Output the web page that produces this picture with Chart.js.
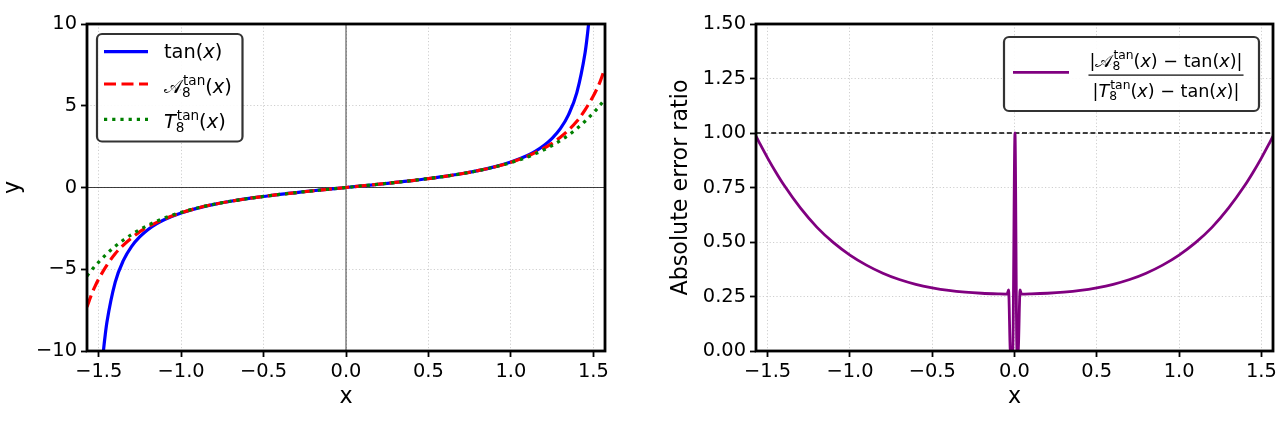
<!DOCTYPE html>
<html><head><meta charset="utf-8">
<script src="https://cdn.jsdelivr.net/npm/chart.js@4.4.1/dist/chart.umd.min.js"></script>
<style>
html,body{margin:0;padding:0;background:#fff;}
#wrap{position:relative;width:1284px;height:421px;overflow:hidden;background:#fff;}
canvas{position:absolute;top:0;}
</style></head><body>
<div id="wrap">
<canvas id="left" width="642" height="421" style="left:0px"></canvas>
<canvas id="right" width="642" height="421" style="left:642px"></canvas>
</div>
<script>
// ---------- data ----------
const tanX = [-1.48,-1.47,-1.46,-1.45,-1.4,-1.35,-1.3,-1.25,-1.2,-1.15,-1.1,-1.0,-0.9,-0.8,-0.7,-0.6,-0.5,-0.4,-0.3,-0.2,-0.1,0,
              0.1,0.2,0.3,0.4,0.5,0.6,0.7,0.8,0.9,1.0,1.1,1.15,1.2,1.25,1.3,1.35,1.4,1.45,1.46,1.47,1.48];
const tanY = [-10.98,-9.89,-8.99,-8.24,-5.80,-4.46,-3.60,-3.01,-2.57,-2.23,-1.96,-1.56,-1.26,-1.03,-0.84,-0.68,-0.55,-0.42,-0.31,-0.20,-0.10,0,
              0.10,0.20,0.31,0.42,0.55,0.68,0.84,1.03,1.26,1.56,1.96,2.23,2.57,3.01,3.60,4.46,5.80,8.24,8.99,9.89,10.98];

const approxX = [-1.5708,-1.56,-1.54,-1.52,-1.5,-1.45,-1.4,-1.35,-1.3,-1.25,-1.2,-1.15,-1.1,-1.0,-0.9,-0.8,-0.7,-0.6,-0.5,-0.4,-0.3,-0.2,-0.1,0,
                 0.1,0.2,0.3,0.4,0.5,0.6,0.7,0.8,0.9,1.0,1.1,1.15,1.2,1.25,1.3,1.35,1.4,1.45,1.5,1.52,1.54,1.56,1.5708];
const padeY = [-7.3,-7.0,-6.45,-6.0,-5.6,-4.75,-4.05,-3.52,-3.08,-2.7,-2.4,-2.15,-1.915,-1.541,-1.255,-1.028,-0.842,-0.684,-0.546,-0.423,-0.309,-0.203,-0.100,0,
               0.100,0.203,0.309,0.423,0.546,0.684,0.842,1.028,1.255,1.541,1.915,2.15,2.4,2.7,3.08,3.52,4.05,4.75,5.6,6.0,6.45,7.0,7.3];
const taylorY = [-5.41,-5.27,-5.02,-4.78,-4.56,-4.05,-3.60,-3.21,-2.87,-2.57,-2.30,-2.07,-1.86,-1.52,-1.25,-1.026,-0.841,-0.684,-0.546,-0.423,-0.309,-0.203,-0.100,0,
                 0.100,0.203,0.309,0.423,0.546,0.684,0.841,1.026,1.25,1.52,1.86,2.07,2.30,2.57,2.87,3.21,3.60,4.05,4.56,4.78,5.02,5.27,5.41];

const ratioX = [-1.5708,-1.55,-1.5,-1.45,-1.4,-1.3,-1.2,-1.1,-1.0,-0.9,-0.8,-0.7,-0.6,-0.5,-0.4,-0.3,-0.2,-0.1,-0.045,-0.036,-0.025,-0.011,0.003,0.015,0.022,0.034,0.042,
                0.1,0.2,0.3,0.4,0.5,0.6,0.7,0.8,0.9,1.0,1.1,1.2,1.3,1.4,1.45,1.5,1.55,1.5708];
const ratioY = [0.985,0.955,0.885,0.82,0.76,0.655,0.567,0.497,0.44,0.394,0.357,0.328,0.306,0.29,0.278,0.27,0.265,0.262,0.261,0.28,0.0,0.0,1.0,0.0,0.0,0.28,0.261,
                0.262,0.265,0.27,0.278,0.29,0.306,0.328,0.357,0.394,0.44,0.497,0.567,0.655,0.76,0.82,0.885,0.955,0.985];

const xTicks = [-1.5,-1,-0.5,0,0.5,1,1.5];
const xTickLabels = ['\u22121.5','\u22121.0','\u22120.5','0.0','0.5','1.0','1.5'];
const leftYTicks = [-10,-5,0,5,10];
const leftYTickLabels = ['\u221210','\u22125','0','5','10'];
const rightYTicks = [0,0.25,0.5,0.75,1,1.25,1.5];
const rightYTickLabels = ['0.00','0.25','0.50','0.75','1.00','1.25','1.50'];
const xRange = [-1.5708, 1.5708];
const leftYRange = [-10, 10];
const rightYRange = [0, 1.5];
const refLineY = 1.0;
const seriesNames = ['tan(x)', 'A8tan(x)', 'T8tan(x)'];
const ratioName = '|A8tan(x) \u2212 tan(x)| / |T8tan(x) \u2212 tan(x)|';
const xTitle = 'x', leftYTitle = 'y', rightYTitle = 'Absolute error ratio';

// ---------- helpers ----------
const FF = "'DejaVu Sans', 'DejaVu Serif', 'Noto Sans', sans-serif";
const TICK_FONT = {family: "'DejaVu Sans'", size: 19.4};
const TITLE_FONT = {family: "'DejaVu Sans'", size: 22.2};
const pts = (xs, ys) => xs.map((x, i) => ({x, y: ys[i]}));

function mathRun(ctx, segs, x, y, size, draw) {
  let cx = x;
  const small = size * 0.7;
  ctx.textAlign = 'left'; ctx.textBaseline = 'alphabetic'; ctx.fillStyle = '#000';
  for (const s of segs) {
    if (s.sup !== undefined) {
      ctx.font = `${small}px ${FF}`;
      const w1 = ctx.measureText(s.sup).width, w2 = ctx.measureText(s.sub).width;
      if (draw) { ctx.fillText(s.sup, cx + 1, y - size * 0.42); ctx.fillText(s.sub, cx, y + size * 0.2); }
      cx += Math.max(w1 + 1, w2);
    } else {
      ctx.font = `${s.it ? 'italic ' : ''}${size}px ${FF}`;
      if (draw) ctx.fillText(s.t, cx, y);
      cx += ctx.measureText(s.t).width;
    }
  }
  return cx - x;
}
function roundRect(ctx, x, y, w, h, r) {
  ctx.beginPath();
  ctx.moveTo(x + r, y);
  ctx.arcTo(x + w, y, x + w, y + h, r);
  ctx.arcTo(x + w, y + h, x, y + h, r);
  ctx.arcTo(x, y + h, x, y, r);
  ctx.arcTo(x, y, x + w, y, r);
  ctx.closePath();
}
function frame(chart) {
  const {ctx, chartArea: a} = chart;
  ctx.save();
  ctx.strokeStyle = '#000'; ctx.lineWidth = 2.8;
  ctx.strokeRect(a.left, a.top, a.right - a.left, a.bottom - a.top);
  ctx.restore();
}
function fixedTicks(vals) { return (scale) => { scale.ticks = vals.map(v => ({value: v})); }; }

function makeScales(yRange, yTicks, yLabels, yW, yTitle, yTitlePad) {
  const grid = {color: '#cfcfcf', lineWidth: 1, borderDash: [1.2, 2.2], drawTicks: true,
                tickLength: 6, tickColor: '#000', tickWidth: 1.8, tickBorderDash: []};
  const border = {display: false, dash: [1.2, 2.2]};
  return {
    x: {type: 'linear', min: xRange[0], max: xRange[1],
        afterBuildTicks: fixedTicks(xTicks),
        afterFit: (s) => { s.height = 70; },
        ticks: {font: TICK_FONT, color: '#000', padding: 3, maxRotation: 0, autoSkip: false,
                callback: (v, i) => xTickLabels[i]},
        grid: Object.assign({}, grid), border: Object.assign({}, border),
        title: {display: true, text: xTitle, font: TITLE_FONT, color: '#000', padding: {top: 0, bottom: 10}}},
    y: {type: 'linear', min: yRange[0], max: yRange[1],
        afterBuildTicks: fixedTicks(yTicks),
        afterFit: (s) => { s.width = yW; },
        ticks: {font: TICK_FONT, color: '#000', padding: 4, autoSkip: false,
                callback: (v, i) => yLabels[i]},
        grid: Object.assign({}, grid), border: Object.assign({}, border),
        title: {display: true, text: yTitle, font: TITLE_FONT, color: '#000', padding: {top: yTitlePad, bottom: 0}}}
  };
}
const common = {responsive: false, animation: false, events: [],
  plugins: {legend: {display: false}, tooltip: {enabled: false}},
  elements: {point: {radius: 0, hoverRadius: 0}}};

// ---------- left chart ----------
const leftPlugin = {
  id: 'leftDeco',
  beforeDatasetsDraw(chart) {
    const {ctx, chartArea: a, scales: {x, y}} = chart;
    ctx.save();
    ctx.strokeStyle = 'rgba(0,0,0,0.75)'; ctx.lineWidth = 1;
    const y0 = y.getPixelForValue(0), x0 = x.getPixelForValue(0);
    ctx.beginPath(); ctx.moveTo(a.left, y0); ctx.lineTo(a.right, y0);
    ctx.moveTo(x0, a.top); ctx.lineTo(x0, a.bottom); ctx.stroke();
    ctx.restore();
  },
  afterDatasetsDraw(chart) {
    frame(chart);
    const {ctx, chartArea: a} = chart;
    const L = a.left, T = a.top;
    ctx.save();
    roundRect(ctx, L + 10, T + 10, 145.5, 107.5, 5);
    ctx.fillStyle = 'rgba(255,255,255,0.92)'; ctx.fill();
    ctx.strokeStyle = '#333'; ctx.lineWidth = 2.2; ctx.stroke();
    const ds = chart.data.datasets;
    const sy = [27.7, 60, 95.3];
    ds.forEach((d, i) => {
      ctx.beginPath();
      ctx.strokeStyle = d.borderColor; ctx.lineWidth = d.borderWidth; ctx.lineCap = 'butt';
      ctx.setLineDash(d.borderDash || []);
      ctx.moveTo(L + 17, T + sy[i]); ctx.lineTo(L + 61, T + sy[i]); ctx.stroke();
    });
    ctx.setLineDash([]);
    const sz = 19.4, tx = L + 77;
    mathRun(ctx, [{t: 'tan('}, {t: 'x', it: true}, {t: ')'}], tx, T + 33.5, sz, true);
    mathRun(ctx, [{t: '\uD835\uDC9C'}, {sup: 'tan', sub: '8'}, {t: '('}, {t: 'x', it: true}, {t: ')'}], tx, T + 69, sz, true);
    mathRun(ctx, [{t: 'T', it: true}, {sup: 'tan', sub: '8'}, {t: '('}, {t: 'x', it: true}, {t: ')'}], tx, T + 104, sz, true);
    ctx.restore();
  }
};
new Chart(document.getElementById('left'), {
  type: 'line',
  data: {datasets: [
    {label: seriesNames[0], data: pts(tanX, tanY), borderColor: '#0000ff', borderWidth: 3.2,
     cubicInterpolationMode: 'monotone', fill: false, order: 3},
    {label: seriesNames[1], data: pts(approxX, padeY), borderColor: '#ff0000', borderWidth: 3.2,
     borderDash: [12, 5.5], cubicInterpolationMode: 'monotone', fill: false, order: 2},
    {label: seriesNames[2], data: pts(approxX, taylorY), borderColor: '#008000', borderWidth: 3.2,
     borderDash: [3.2, 5], cubicInterpolationMode: 'monotone', fill: false, order: 1}
  ]},
  options: Object.assign({}, common, {
    layout: {padding: {top: 24, right: 37, bottom: 0, left: 0}},
    scales: makeScales(leftYRange, leftYTicks, leftYTickLabels, 87, leftYTitle, 0)
  }),
  plugins: [leftPlugin]
});

// ---------- right chart ----------
const rightPlugin = {
  id: 'rightDeco',
  beforeDatasetsDraw(chart) {
    const {ctx, chartArea: a, scales: {y}} = chart;
    ctx.save();
    ctx.strokeStyle = '#000'; ctx.lineWidth = 1.3; ctx.setLineDash([5, 2.6]);
    const yy = y.getPixelForValue(refLineY);
    ctx.beginPath(); ctx.moveTo(a.left, yy); ctx.lineTo(a.right, yy); ctx.stroke();
    ctx.restore();
  },
  afterDatasetsDraw(chart) {
    frame(chart);
    const {ctx, chartArea: a} = chart;
    const R = a.right, T = a.top;
    ctx.save();
    roundRect(ctx, R - 269, T + 13, 255, 74, 5);
    ctx.fillStyle = 'rgba(255,255,255,0.92)'; ctx.fill();
    ctx.strokeStyle = '#333'; ctx.lineWidth = 2.2; ctx.stroke();
    const d = chart.data.datasets[0];
    ctx.beginPath(); ctx.strokeStyle = d.borderColor; ctx.lineWidth = d.borderWidth;
    ctx.moveTo(R - 260, T + 48.3); ctx.lineTo(R - 204, T + 48.3); ctx.stroke();
    const sz = 17.6, cx = R - 107;
    const num = [{t: '|\uD835\uDC9C'}, {sup: 'tan', sub: '8'}, {t: '('}, {t: 'x', it: true}, {t: ') \u2212 tan('}, {t: 'x', it: true}, {t: ')|'}];
    const den = [{t: '|'}, {t: 'T', it: true}, {sup: 'tan', sub: '8'}, {t: '('}, {t: 'x', it: true}, {t: ') \u2212 tan('}, {t: 'x', it: true}, {t: ')|'}];
    const wn = mathRun(ctx, num, 0, 0, sz, false), wd = mathRun(ctx, den, 0, 0, sz, false);
    mathRun(ctx, num, cx - wn / 2, T + 42.5, sz, true);
    mathRun(ctx, den, cx - wd / 2, T + 72.5, sz, true);
    const wb = Math.max(wn, wd) + 2;
    ctx.fillStyle = '#000';
    ctx.fillRect(cx - wb / 2, T + 50.5, wb, 1.2);
    ctx.restore();
  }
};
new Chart(document.getElementById('right'), {
  type: 'line',
  data: {datasets: [
    {label: ratioName, data: pts(ratioX, ratioY), borderColor: '#800080', borderWidth: 2.8,
     cubicInterpolationMode: 'monotone', fill: false}
  ]},
  options: Object.assign({}, common, {
    layout: {padding: {top: 24, right: 11, bottom: 0, left: 0}},
    scales: makeScales(rightYRange, rightYTicks, rightYTickLabels, 114, rightYTitle, 26)
  }),
  plugins: [rightPlugin]
});
</script>
</body></html>
